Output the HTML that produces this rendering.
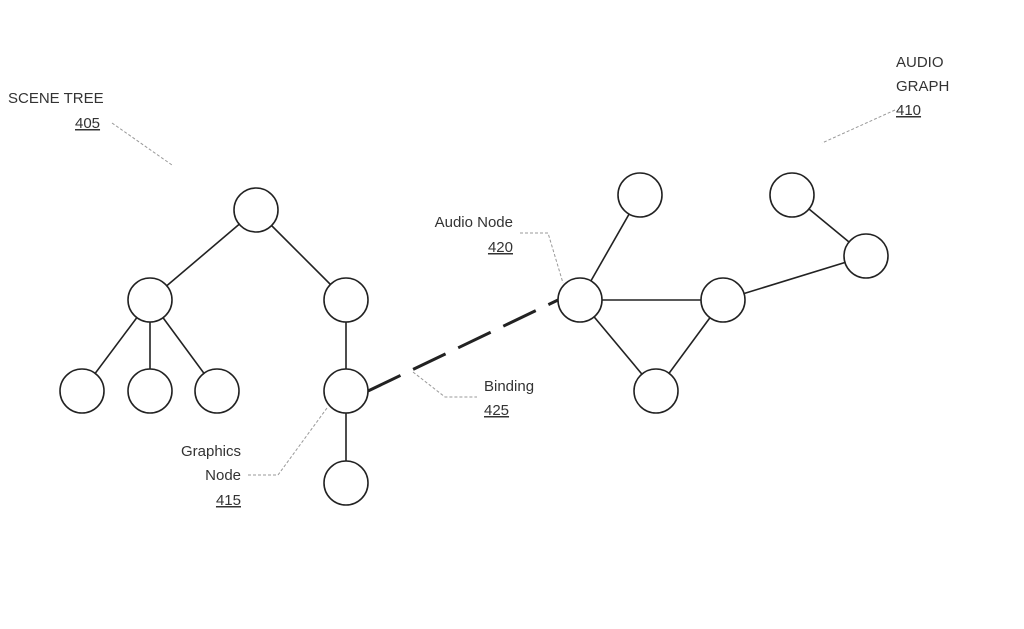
<!DOCTYPE html>
<html><head><meta charset="utf-8"><style>
html,body{margin:0;padding:0;background:#fff}
svg{display:block}
text{font-family:"Liberation Sans",sans-serif;font-size:15px;fill:#333}
</style></head><body>
<svg width="1024" height="629" viewBox="0 0 1024 629">
<g stroke="#222" stroke-width="1.6" fill="none">
<line x1="256" y1="210" x2="150" y2="300"/>
<line x1="256" y1="210" x2="346" y2="300"/>
<line x1="150" y1="300" x2="82" y2="391"/>
<line x1="150" y1="300" x2="150" y2="391"/>
<line x1="150" y1="300" x2="217" y2="391"/>
<line x1="346" y1="300" x2="346" y2="483"/>
<line x1="640" y1="195" x2="580" y2="300"/>
<line x1="580" y1="300" x2="723" y2="300"/>
<line x1="580" y1="300" x2="656" y2="391"/>
<line x1="723" y1="300" x2="656" y2="391"/>
<line x1="723" y1="300" x2="866" y2="256"/>
<line x1="792" y1="195" x2="866" y2="256"/>
<line x1="368" y1="391" x2="558" y2="300" stroke-width="3" stroke-dasharray="36,14"/>
</g>
<g stroke="#222" stroke-width="1.6" fill="#fff">
<circle cx="256" cy="210" r="22"/>
<circle cx="150" cy="300" r="22"/>
<circle cx="346" cy="300" r="22"/>
<circle cx="82" cy="391" r="22"/>
<circle cx="150" cy="391" r="22"/>
<circle cx="217" cy="391" r="22"/>
<circle cx="346" cy="391" r="22"/>
<circle cx="346" cy="483" r="22"/>
<circle cx="640" cy="195" r="22"/>
<circle cx="580" cy="300" r="22"/>
<circle cx="723" cy="300" r="22"/>
<circle cx="656" cy="391" r="22"/>
<circle cx="792" cy="195" r="22"/>
<circle cx="866" cy="256" r="22"/>
</g>
<g stroke="#999" stroke-width="1" fill="none" stroke-dasharray="3,2">
<line x1="112" y1="123" x2="172" y2="165"/>
<line x1="895" y1="110" x2="822" y2="143"/>
<polyline points="520,233 548,233 563,283"/>
<polyline points="413,372 445,397 477,397"/>
<polyline points="248,475 278,475 327,408"/>
</g>
<text x="8" y="103">SCENE TREE</text>
<text x="75" y="128" text-decoration="underline">405</text>
<text x="896" y="67">AUDIO</text>
<text x="896" y="91">GRAPH</text>
<text x="896" y="115" text-decoration="underline">410</text>
<text x="513" y="227" text-anchor="end">Audio Node</text>
<text x="513" y="252" text-anchor="end" text-decoration="underline">420</text>
<text x="484" y="391">Binding</text>
<text x="484" y="415" text-decoration="underline">425</text>
<text x="241" y="456" text-anchor="end">Graphics</text>
<text x="241" y="480" text-anchor="end">Node</text>
<text x="241" y="505" text-anchor="end" text-decoration="underline">415</text>
</svg>
</body></html>
